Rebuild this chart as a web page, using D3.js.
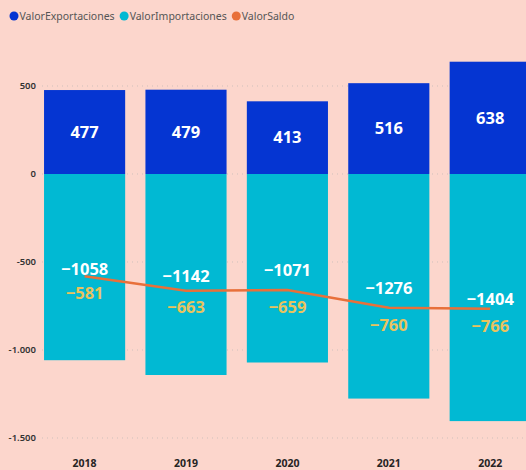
<!DOCTYPE html>
<html>
  <head>
    <meta charset="utf-8">
    <title>Saldo</title>
    <script src="https://cdn.jsdelivr.net/npm/d3@7"></script>
    <style>
      body { margin: 0; background: #fcd6cc; }
      text { font-family: "Segoe UI", "Noto Sans", "Open Sans", sans-serif; }
    </style>
  </head>
  <body>
    <svg width="526" height="470" id="mainsvg" style="display: block;"></svg>
    <script>
    const years = ['2018', '2019', '2020', '2021', '2022'];
    const exportaciones = [477, 479, 413, 516, 638];
    const importaciones = [-1058, -1142, -1071, -1276, -1404];
    const saldo = [-581, -663, -659, -760, -766];
    const yTicks = [500, 0, -500, -1000, -1500];
    const seriesNames = ['ValorExportaciones', 'ValorImportaciones', 'ValorSaldo'];
    const colors = ['#0535d2', '#01b9d3', '#e8703a'];

    let svg = d3.select('#mainsvg');

    const x = d3.scaleBand().domain(years).range([33.9, 540.9])
      .paddingInner(0.2).paddingOuter(0.1);
    const y = d3.scaleLinear().domain([-1500, 500]).range([438, 86]);
    // axis labels: dot as thousands separator, plain hyphen
    const fmt = v => (v < 0 ? '-' : '') + d3.format(',')(Math.abs(v)).replace(/,/g, '.');
    const neg = v => (v < 0 ? '\u2212' + Math.abs(v) : '' + v);

    // gridlines (faint dotted)
    svg.append('g').selectAll('line').data(yTicks).join('line')
      .attr('x1', 42).attr('x2', 526)
      .attr('y1', d => y(d)).attr('y2', d => y(d))
      .attr('stroke', '#cfc0bb').attr('stroke-width', 1)
      .attr('stroke-dasharray', '1,4');

    // y axis labels
    svg.append('g').selectAll('text').data(yTicks).join('text')
      .attr('x', 36).attr('y', d => y(d))
      .attr('dy', '0.35em').attr('text-anchor', 'end')
      .attr('font-size', 9.5).attr('font-weight', 600).attr('fill', '#333')
      .text(d => fmt(d));

    // x axis labels
    svg.append('g').selectAll('text').data(years).join('text')
      .attr('x', d => x(d) + x.bandwidth() / 2).attr('y', 463)
      .attr('dy', '0.35em').attr('text-anchor', 'middle')
      .attr('font-size', 10.5).attr('font-weight', 700).attr('fill', '#252423')
      .text(d => d);

    // bars
    svg.append('g').selectAll('rect').data(exportaciones).join('rect')
      .attr('x', (d, i) => x(years[i])).attr('width', x.bandwidth())
      .attr('y', d => y(d)).attr('height', d => y(0) - y(d))
      .attr('fill', colors[0]);
    svg.append('g').selectAll('rect').data(importaciones).join('rect')
      .attr('x', (d, i) => x(years[i])).attr('width', x.bandwidth())
      .attr('y', y(0)).attr('height', d => y(d) - y(0))
      .attr('fill', colors[1]);

    // saldo line
    const line = d3.line()
      .x((d, i) => x(years[i]) + x.bandwidth() / 2)
      .y(d => y(d));
    svg.append('path').datum(saldo)
      .attr('d', line).attr('fill', 'none')
      .attr('stroke', colors[2]).attr('stroke-width', 2.5);

    // data labels
    svg.append('g').selectAll('text').data(exportaciones).join('text')
      .attr('x', (d, i) => x(years[i]) + x.bandwidth() / 2)
      .attr('y', d => (y(d) + y(0)) / 2).attr('dy', '0.35em')
      .attr('text-anchor', 'middle').attr('font-size', 16.5).attr('font-weight', 700)
      .attr('fill', '#fff').text(d => neg(d));
    svg.append('g').selectAll('text').data(importaciones).join('text')
      .attr('x', (d, i) => x(years[i]) + x.bandwidth() / 2)
      .attr('y', d => (y(d) + y(0)) / 2 + 2).attr('dy', '0.35em')
      .attr('text-anchor', 'middle').attr('font-size', 16.5).attr('font-weight', 700)
      .attr('fill', '#fff').text(d => neg(d));
    svg.append('g').selectAll('text').data(saldo).join('text')
      .attr('x', (d, i) => x(years[i]) + x.bandwidth() / 2)
      .attr('y', d => y(d) + 17).attr('dy', '0.35em')
      .attr('text-anchor', 'middle').attr('font-size', 16.5).attr('font-weight', 700)
      .attr('fill', '#e9c35e').text(d => neg(d));

    // legend, laid out by measured text width
    let lx = 14;
    seriesNames.forEach((name, i) => {
      const g = svg.append('g').attr('transform', `translate(${lx},16)`);
      g.append('circle').attr('r', 4.5).attr('fill', colors[i]);
      const t = g.append('text').attr('x', 5.5).attr('dy', '0.35em')
        .attr('font-size', 10.5).attr('fill', '#555').text(name);
      lx += 5.5 + t.node().getComputedTextLength() + 9.5;
    });
    </script>
  </body>
</html>
